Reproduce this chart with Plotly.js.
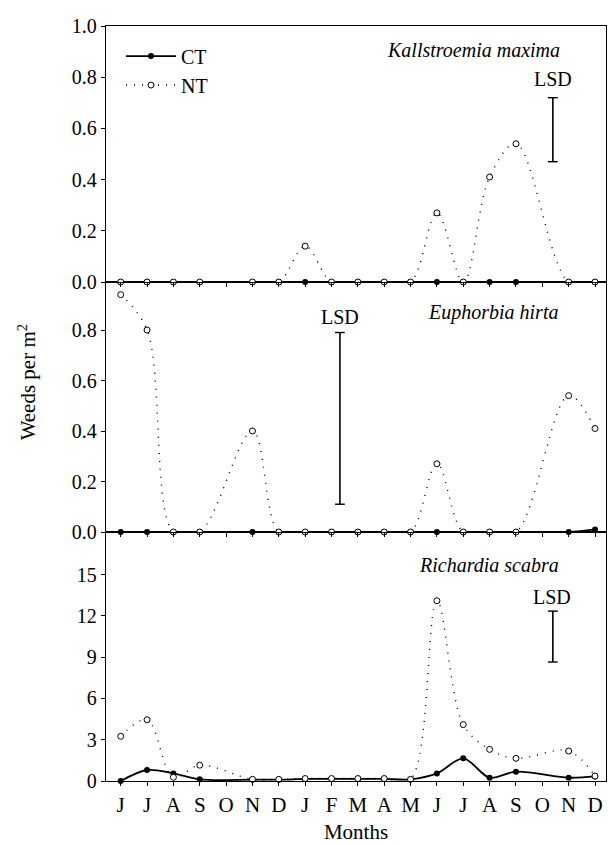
<!DOCTYPE html>
<html>
<head>
<meta charset="utf-8">
<script src="https://cdn.plot.ly/plotly-3.0.1.min.js"></script>
<style>html,body{margin:0;padding:0;background:#fff;}#chart{width:609px;height:844px;}</style>
</head>
<body>
<div id="chart"></div>
<script>
// Month labels (June of year 1 to December of year 2)
const months = ['J','J','A','S','O','N','D','J','F','M','A','M','J','J','A','S','O','N','D'];
const monthIdx = [0,1,2,3,4,5,6,7,8,9,10,11,12,13,14,15,16,17,18];

// Kallstroemia maxima (top panel)
const kmCT = [0,0,0,0,null,0,0,0,0,0,0,0,0,0,0,0,null,0,0];
const kmNT = [0,0,0,0,null,0,0,0.14,0,0,0,0,0.27,0,0.41,0.54,null,0,0];
// Euphorbia hirta (middle panel)
const ehCT = [0,0,0,0,null,0,0,0,0,0,0,0,0,0,0,0,null,0,0.01];
const ehNT = [0.94,0.80,0,0,null,0.40,0,0,0,0,0,0,0.27,0,0,0,null,0.54,0.41];
// Richardia scabra (bottom panel)
const rsCT = [0,0.8,0.55,0.12,null,0.1,0.1,0.15,0.15,0.15,0.15,0.12,0.55,1.65,0.24,0.68,null,0.24,0.33];
const rsNT = [3.25,4.45,0.27,1.15,null,0.12,0.12,0.18,0.18,0.18,0.18,0.12,13.1,4.1,2.3,1.65,null,2.18,0.36];

// LSD bars: position (month index) and low/high ends
const lsdX    = [16.4, 8.32, 16.4];
const lsdLow  = [0.47, 0.11, 8.65];
const lsdHigh = [0.72, 0.79, 12.35];

const FONT = 'Liberation Serif, DejaVu Serif, serif';

function ctTrace(y, xa, ya, show) {
  return {x: monthIdx, y: y, xaxis: xa, yaxis: ya, name: 'CT', showlegend: show,
    mode: 'lines+markers', connectgaps: true, cliponaxis: false,
    line: {color: '#000', width: 1.8, shape: 'spline', smoothing: 0.9},
    marker: {symbol: 'circle', size: 6, color: '#000'}};
}
function ntTrace(y, xa, ya, show) {
  return {x: monthIdx, y: y, xaxis: xa, yaxis: ya, name: 'NT', showlegend: show,
    mode: 'lines+markers', connectgaps: true, cliponaxis: false,
    line: {color: '#000', width: 1.4, dash: '1px,7px', shape: 'spline', smoothing: 1},
    marker: {symbol: 'circle', size: 6, color: '#fff', line: {color: '#000', width: 1}}};
}
function lsdTrace(i, xa, ya) {
  return {x: [lsdX[i], lsdX[i]], y: [lsdLow[i], lsdHigh[i]], xaxis: xa, yaxis: ya,
    mode: 'lines+markers', showlegend: false, cliponaxis: false,
    line: {color: '#000', width: 1.6},
    marker: {symbol: 'line-ew-open', size: 7, color: '#000', line: {color: '#000', width: 1.4}}};
}

const data = [
  ctTrace(kmCT, 'x3', 'y3', true), ntTrace(kmNT, 'x3', 'y3', true), lsdTrace(0, 'x3', 'y3'),
  ctTrace(ehCT, 'x2', 'y2', false), ntTrace(ehNT, 'x2', 'y2', false), lsdTrace(1, 'x2', 'y2'),
  ctTrace(rsCT, 'x', 'y', false), ntTrace(rsNT, 'x', 'y', false), lsdTrace(2, 'x', 'y')
];

const xr = [-0.558, 18.417];
function xax(anchor, labels) {
  return {anchor: anchor, domain: [0, 1], range: xr, tickvals: monthIdx, ticktext: months,
    showticklabels: labels, ticks: 'outside', ticklen: 4, tickcolor: '#000', tickwidth: 1,
    showline: true, mirror: true, linecolor: '#000', linewidth: 1.3, showgrid: false, zeroline: false,
    tickfont: {family: FONT, size: 21, color: '#000'}};
}
function yax(anchor, dom, range, tv, tt) {
  return {anchor: anchor, domain: dom, range: range, tickvals: tv, ticktext: tt,
    ticks: 'outside', ticklen: 4, tickcolor: '#000', tickwidth: 1,
    showline: true, mirror: true, linecolor: '#000', linewidth: 1.3, showgrid: false, zeroline: false,
    tickfont: {family: FONT, size: 20, color: '#000'}};
}

const ann = (text, x, y, xanchor, extra) => Object.assign({text: text, xref: 'paper', yref: 'paper', x: x, y: y,
  xanchor: xanchor, yanchor: 'middle', showarrow: false, font: {family: FONT, size: 20, color: '#000'}}, extra || {});

const layout = {
  width: 609, height: 844,
  margin: {l: 106, r: 3, t: 26, b: 63},
  paper_bgcolor: '#fff', plot_bgcolor: '#fff',
  font: {family: FONT, color: '#000'},
  showlegend: true,
  legend: {x: 0.03, y: 0.986, xanchor: 'left', yanchor: 'top', bgcolor: 'rgba(0,0,0,0)',
    font: {family: FONT, size: 20, color: '#000'}, itemwidth: 50, tracegroupgap: 0},
  xaxis: Object.assign(xax('y', true), {title: {text: 'Months', font: {family: FONT, size: 21, color: '#000'}, standoff: 16}}),
  xaxis2: xax('y2', false),
  xaxis3: xax('y3', false),
  yaxis: yax('x', [0, 0.3298], [0, 18.1], [0,3,6,9,12,15], ['0','3','6','9','12','15']),
  yaxis2: yax('x2', [0.3298, 0.6609], [0, 0.99], [0,0.2,0.4,0.6,0.8], ['0.0','0.2','0.4','0.6','0.8']),
  yaxis3: yax('x3', [0.6609, 1], [0, 1.0], [0,0.2,0.4,0.6,0.8,1.0], ['0.0','0.2','0.4','0.6','0.8','1.0']),
  annotations: [
    ann('<i>Kallstroemia maxima</i>', 0.912, 0.968, 'right'),
    ann('LSD', 0.894, 0.930, 'center'),
    ann('<i>Euphorbia hirta</i>', 0.908, 0.620, 'right'),
    ann('LSD', 0.468, 0.6146, 'center'),
    ann('<i>Richardia scabra</i>', 0.91, 0.286, 'right'),
    ann('LSD', 0.892, 0.2437, 'center'),
    ann('Weeds per m<sup>2</sup>', -0.158, 0.528, 'center', {textangle: -90, font: {family: FONT, size: 21, color: '#000'}})
  ]
};

Plotly.newPlot('chart', data, layout, {staticPlot: true, displayModeBar: false});
</script>
</body>
</html>
